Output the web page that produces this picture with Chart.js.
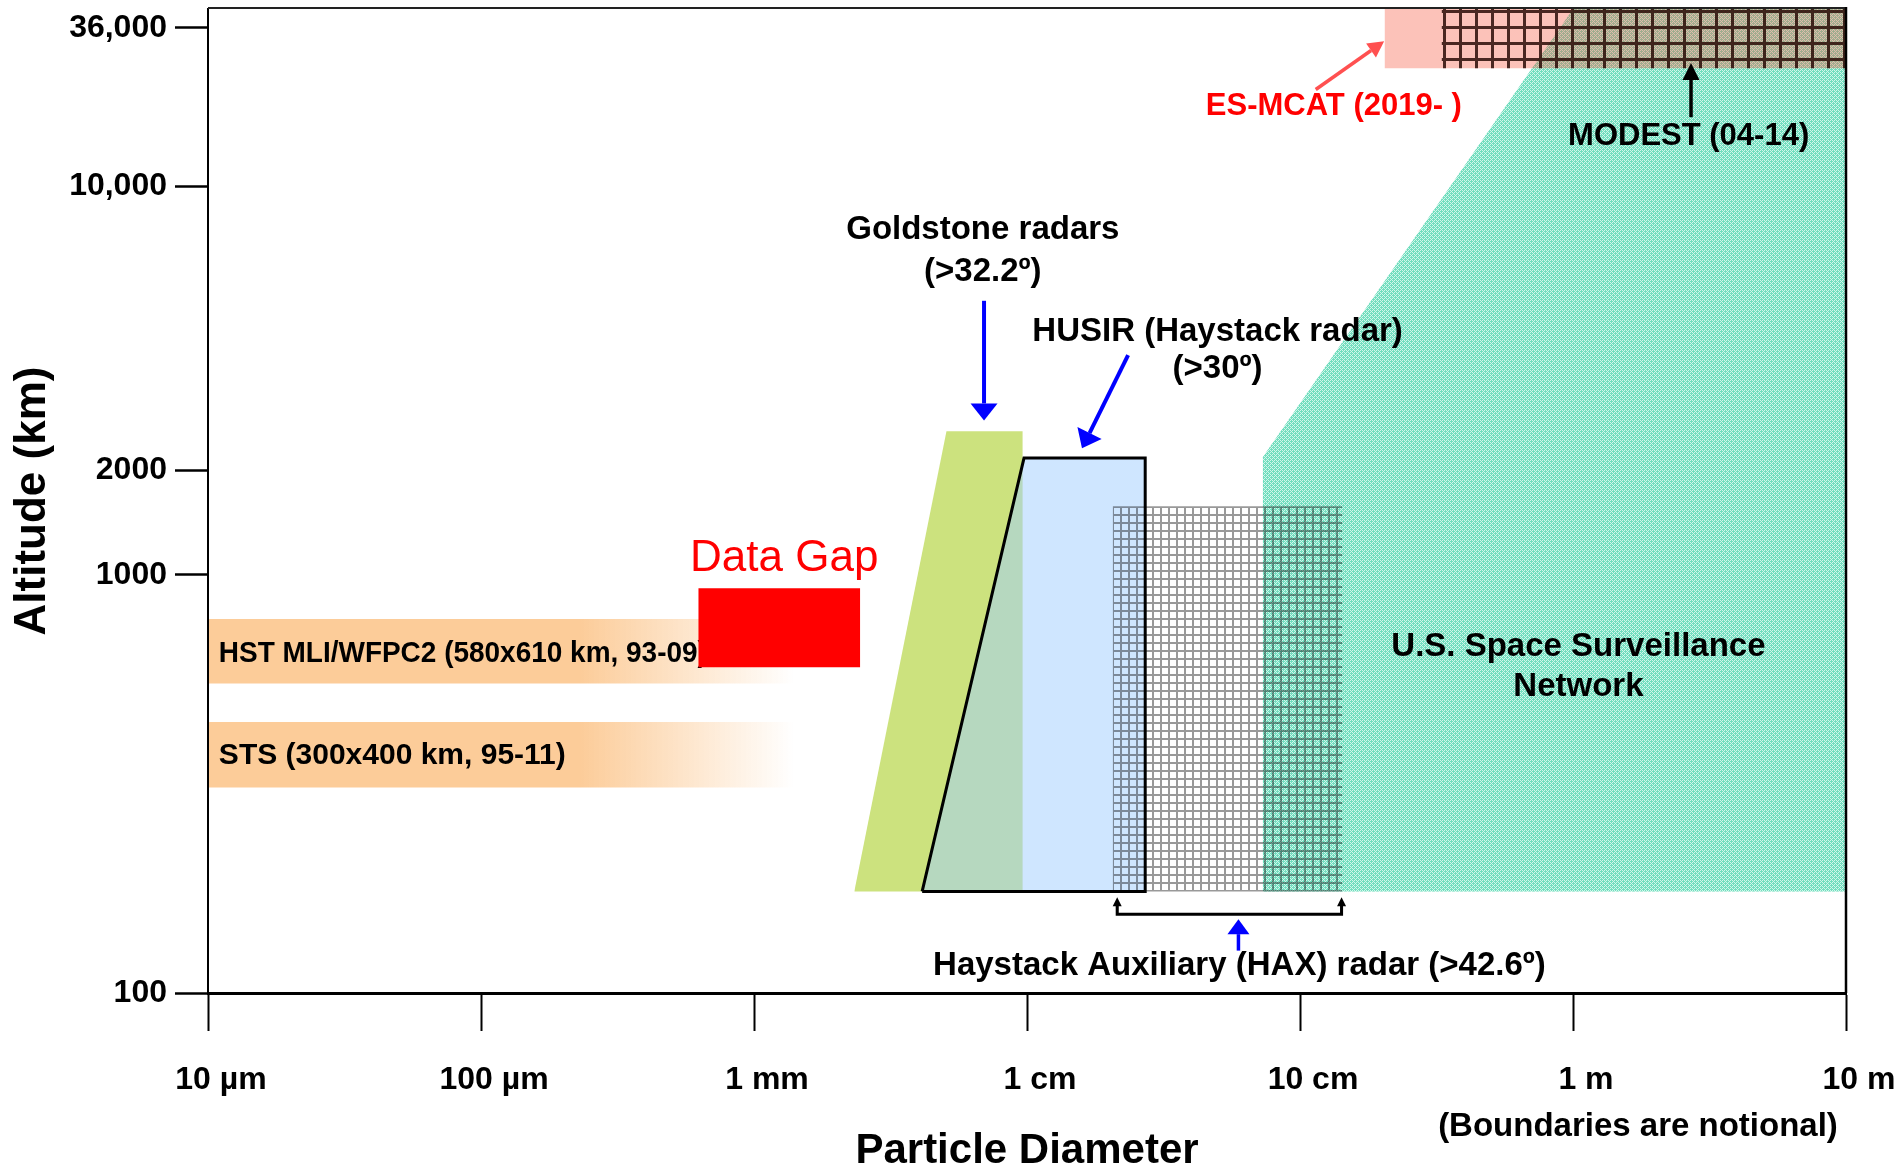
<!DOCTYPE html>
<html>
<head>
<meta charset="utf-8">
<title>Debris measurement coverage</title>
<script src="https://cdn.jsdelivr.net/npm/chart.js@4.4.1/dist/chart.umd.min.js"></script>
<style>
  html, body { margin: 0; padding: 0; background: #fff; overflow: hidden; }
  canvas { display: block; }
</style>
</head>
<body>
<canvas id="chart" width="1898" height="1173" style="width:1898px;height:1173px"></canvas>
<script>
const FONT = "'Liberation Sans', Arial, Helvetica, sans-serif";
Chart.defaults.font.family = FONT;
Chart.defaults.color = '#000';

// ---- axes ----
const SIZE_TICKS  = [1e-5, 1e-4, 1e-3, 1e-2, 1e-1, 1, 10];   // particle diameter, metres
const SIZE_LABELS = ['10 µm', '100 µm', '1 mm', '1 cm', '10 cm', '1 m', '10 m'];
const ALT_TICKS   = [100, 1000, 2000, 10000, 36000];         // altitude, km
const ALT_LABELS  = ['100', '1000', '2000', '10,000', '36,000'];
const ALT_TOP     = 41000;

// altitude axis is notional: every break gets its own share of the height
const ALT_BREAKS    = [100, 1000, 2000, 10000, 36000, ALT_TOP];
const ALT_BREAK_POS = [0, 0.4248, 0.5315, 0.8201, 0.9807, 1];

// ---- regions: diameter (m) / altitude (km) ----
const FLOOR_KM   = 175;
const SSN_D      = [0.073, 0.073, 1.0, 10, 10];
const SSN_ALT    = [175, 2150, 41000, 41000, 175];
const GOLD_D     = [0.00233, 0.00507, 0.00965, 0.00965];
const GOLD_ALT   = [175, 2490, 2490, 175];
const HUSIR_D    = [0.00413, 0.00975, 0.0271, 0.0271, 0.00413];
const HUSIR_ALT  = [175, 2140, 2140, 175, 175];
const HAX_D      = [0.0206, 0.143];
const HAX_ALT    = [175, 1575];
const HST_D      = [1e-5, 0.0015];
const HST_ALT    = [550, 785];
const STS_D      = [1e-5, 0.0015];
const STS_ALT    = [310, 445];
const GAP_D      = [0.000625, 0.00245];
const GAP_ALT    = [602, 929];
const ESMCAT_D   = [0.204, 10];
const ESMCAT_ALT = [26000, 41000];
const MODEST_D   = [0.33, 10];
const MODEST_ALT = [26000, 41000];

const FADE_D = [2.3e-4, 1.4e-3];   // where the HST / STS bands fade out

// ---- notional altitude scale ----
function altToDecimal(v) {
  const lv = Math.log10(v);
  let i = 1;
  while (i < ALT_BREAKS.length - 1 && lv > Math.log10(ALT_BREAKS[i])) i++;
  const a = Math.log10(ALT_BREAKS[i - 1]), b = Math.log10(ALT_BREAKS[i]);
  return ALT_BREAK_POS[i - 1] + (lv - a) / (b - a) * (ALT_BREAK_POS[i] - ALT_BREAK_POS[i - 1]);
}
function decimalToAlt(t) {
  let i = 1;
  while (i < ALT_BREAK_POS.length - 1 && t > ALT_BREAK_POS[i]) i++;
  const a = Math.log10(ALT_BREAKS[i - 1]), b = Math.log10(ALT_BREAKS[i]);
  const f = (t - ALT_BREAK_POS[i - 1]) / (ALT_BREAK_POS[i] - ALT_BREAK_POS[i - 1]);
  return Math.pow(10, a + f * (b - a));
}

class NotionalScale extends Chart.LinearScale {
  getPixelForValue(value) {
    if (value === null || value === undefined) return NaN;
    return this.getPixelForDecimal(altToDecimal(value));
  }
  getValueForPixel(pixel) {
    return decimalToAlt(this.getDecimalForPixel(pixel));
  }
}
NotionalScale.id = 'notional';
NotionalScale.defaults = {};
Chart.register(NotionalScale);

// ---- fills ----
const canvas = document.getElementById('chart');
const ctx2d = canvas.getContext('2d');

function makePattern(size, paint, shift) {
  const c = document.createElement('canvas');
  c.width = c.height = size;
  paint(c.getContext('2d'));
  const p = ctx2d.createPattern(c, 'repeat');
  if (shift) p.setTransform(new DOMMatrix().translate(shift[0], shift[1]));
  return p;
}

const TEAL = makePattern(4, g => {
  g.fillStyle = 'rgb(112,221,190)';
  g.fillRect(0, 0, 4, 4);
  g.fillStyle = 'rgb(208,247,234)';
  [[0, 0], [2, 0], [1, 1], [0, 2], [2, 2], [3, 3]].forEach(([x, y]) => g.fillRect(x, y, 1, 1));
});
const HAX_GRID = makePattern(8, g => {
  g.fillStyle = 'rgba(0,0,0,0.4)';
  g.fillRect(0, 0, 2, 8);
  g.fillRect(2, 0, 6, 2);
}, [1112, 506]);
const MODEST_GRID = makePattern(16, g => {
  g.fillStyle = 'rgba(35,5,0,0.82)';
  g.fillRect(0, 0, 3, 16);
  g.fillRect(3, 0, 13, 3);
}, [1443, 10]);

const PEACH = 'rgb(252,204,153)';
const GREEN = 'rgb(204,226,126)';
const BLUE  = 'rgba(160,205,255,0.5)';
const RED   = '#FF0000';
const PINK  = 'rgba(245,80,55,0.35)';
const CLEAR = 'rgba(0,0,0,0)';

function peachFade(context) {
  const chart = context.chart;
  const xs = chart.scales.x;
  if (!chart.chartArea || !xs) return PEACH;
  const g = chart.ctx.createLinearGradient(xs.getPixelForValue(FADE_D[0]), 0, xs.getPixelForValue(FADE_D[1]), 0);
  g.addColorStop(0, PEACH);
  g.addColorStop(1, 'rgba(252,204,153,0)');
  return g;
}

const pts  = (d, alt) => d.map((x, i) => ({x, y: alt[i]}));
const band = (d, alt) => [{x: d[0], y: alt[1]}, {x: d[1], y: alt[1]}];

function region(label, data, fill, bg, order, extra) {
  return Object.assign({
    label, data, fill, order,
    showLine: true, pointRadius: 0, tension: 0,
    backgroundColor: bg, borderColor: CLEAR, borderWidth: 0,
  }, extra || {});
}

// ---- annotations (anchored in data space) ----
const NOTES = [
  {text: 'Goldstone radars', d: 0.00689, alt: 7815},
  {text: '(>32.2º)', d: 0.00689, alt: 6150},
  {text: 'HUSIR (Haystack radar)', d: 0.0499, alt: 4366},
  {text: '(>30º)', d: 0.0499, alt: 3555},
  {text: 'U.S. Space Surveillance', d: 1.047, alt: 674},
  {text: 'Network', d: 1.047, alt: 541},
  {text: 'MODEST (04-14)', d: 2.652, alt: 14940, size: 31},
  {text: 'ES-MCAT (2019- )', d: 0.1331, alt: 19070, color: RED, size: 31},
  {text: 'Data Gap', d: 0.00129, alt: 1109, color: RED, size: 44, weight: 'normal'},
  {text: 'Haystack Auxiliary (HAX) radar (>42.6º)', d: 0.0600, alt: 115.8},
];
const BAND_NOTES = {
  HST: {text: 'HST MLI/WFPC2 (580x610 km, 93-09)', d: 1.096e-5, alt: 648, size: 30, align: 'left', squeeze: 488},
  STS: {text: 'STS (300x400 km, 95-11)', d: 1.096e-5, alt: 370, size: 30, align: 'left'},
};
const ARROWS = [
  {from: [0.00696, 5218], to: [0.00696, 2649], color: '#0000FF', width: 4, head: [27, 17]},
  {from: [0.02346, 3834], to: [0.0159, 2262], color: '#0000FF', width: 4, head: [27, 17]},
  {from: [0.0595, 126.3], to: [0.0595, 150.2], color: '#0000FF', width: 3.5, head: [22, 15]},
  {from: [0.1142, 21860], to: [0.2033, 32320], color: '#FF5050', width: 3.5, head: [17, 16]},
  {from: [2.706, 17470], to: [2.706, 27120], color: '#000', width: 3.5, head: [17, 17]},
];
const BRACKET_D   = [0.0214, 0.142];
const BRACKET_ALT = [154.3, 169.5];

function drawText(ctx, n, x, y) {
  ctx.save();
  ctx.font = `${n.weight || 'bold'} ${n.size || 33}px ${FONT}`;
  ctx.fillStyle = n.color || '#000';
  ctx.textAlign = n.align || 'center';
  ctx.textBaseline = 'middle';
  if (n.squeeze) ctx.fillText(n.text, x, y, n.squeeze);
  else ctx.fillText(n.text, x, y);
  ctx.restore();
}

function drawArrow(ctx, x0, y0, x1, y1, color, lw, headW, headL) {
  const ang = Math.atan2(y1 - y0, x1 - x0);
  const bx = x1 - Math.cos(ang) * headL, by = y1 - Math.sin(ang) * headL;
  ctx.save();
  ctx.strokeStyle = color;
  ctx.fillStyle = color;
  ctx.lineWidth = lw;
  ctx.beginPath();
  ctx.moveTo(x0, y0);
  ctx.lineTo(bx, by);
  ctx.stroke();
  ctx.beginPath();
  ctx.moveTo(x1, y1);
  ctx.lineTo(bx + Math.sin(ang) * headW / 2, by - Math.cos(ang) * headW / 2);
  ctx.lineTo(bx - Math.sin(ang) * headW / 2, by + Math.cos(ang) * headW / 2);
  ctx.closePath();
  ctx.fill();
  ctx.restore();
}

const notesPlugin = {
  id: 'notes',
  afterDatasetDraw(chart, args) {
    const n = BAND_NOTES[chart.data.datasets[args.index].label];
    if (!n) return;
    const {x, y} = chart.scales;
    drawText(chart.ctx, n, x.getPixelForValue(n.d), y.getPixelForValue(n.alt));
  },
  afterDraw(chart) {
    const ctx = chart.ctx;
    const {x, y} = chart.scales;
    const area = chart.chartArea;

    // frame: top and right edges
    ctx.save();
    ctx.strokeStyle = '#222';
    ctx.lineWidth = 2;
    ctx.beginPath();
    ctx.moveTo(area.left, area.top - 1);
    ctx.lineTo(area.right + 1, area.top - 1);
    ctx.stroke();
    ctx.strokeStyle = '#000';
    ctx.lineWidth = 2.5;
    ctx.beginPath();
    ctx.moveTo(area.right, area.top - 2);
    ctx.lineTo(area.right, area.bottom);
    ctx.stroke();
    ctx.restore();

    ARROWS.forEach(a => drawArrow(ctx,
      x.getPixelForValue(a.from[0]), y.getPixelForValue(a.from[1]),
      x.getPixelForValue(a.to[0]), y.getPixelForValue(a.to[1]),
      a.color, a.width, a.head[0], a.head[1]));

    // HAX bracket
    const bl = x.getPixelForValue(BRACKET_D[0]), br = x.getPixelForValue(BRACKET_D[1]);
    const bb = y.getPixelForValue(BRACKET_ALT[0]), bt = y.getPixelForValue(BRACKET_ALT[1]);
    ctx.save();
    ctx.strokeStyle = '#000';
    ctx.lineWidth = 3;
    ctx.beginPath();
    ctx.moveTo(bl, bt + 6);
    ctx.lineTo(bl, bb);
    ctx.lineTo(br, bb);
    ctx.lineTo(br, bt + 6);
    ctx.stroke();
    ctx.restore();
    drawArrow(ctx, bl, bb, bl, bt, '#000', 2, 9, 9);
    drawArrow(ctx, br, bb, br, bt, '#000', 2, 9, 9);

    NOTES.forEach(n => drawText(ctx, n, x.getPixelForValue(n.d), y.getPixelForValue(n.alt)));

    drawText(ctx, {text: '(Boundaries are notional)', size: 33},
      x.getPixelForValue(1.73), area.bottom + 134);
  },
};

new Chart(canvas, {
  type: 'scatter',
  data: {
    datasets: [
      region('SSN', pts(SSN_D, SSN_ALT), {value: FLOOR_KM}, TEAL, 10),
      region('HST', band(HST_D, HST_ALT), {value: HST_ALT[0]}, peachFade, 9),
      region('STS', band(STS_D, STS_ALT), {value: STS_ALT[0]}, peachFade, 8),
      region('Goldstone', pts(GOLD_D, GOLD_ALT), {value: FLOOR_KM}, GREEN, 7),
      region('HUSIR', pts(HUSIR_D.slice(0, 4), HUSIR_ALT.slice(0, 4)), {value: FLOOR_KM}, BLUE, 6),
      region('HAX', band(HAX_D, HAX_ALT), {value: HAX_ALT[0]}, HAX_GRID, 5),
      region('HUSIR outline', pts(HUSIR_D, HUSIR_ALT), false, CLEAR, 4,
        {borderColor: '#000', borderWidth: 3, borderJoinStyle: 'miter'}),
      region('Data Gap', band(GAP_D, GAP_ALT), {value: GAP_ALT[0]}, RED, 3),
      region('ES-MCAT', band(ESMCAT_D, ESMCAT_ALT), {value: ESMCAT_ALT[0]}, PINK, 2),
      region('MODEST', band(MODEST_D, MODEST_ALT), {value: MODEST_ALT[0]}, MODEST_GRID, 1),
    ],
  },
  options: {
    responsive: false,
    animation: false,
    devicePixelRatio: 1,
    events: [],
    layout: { padding: { top: 9, right: 52, bottom: 0, left: 0 } },
    plugins: { legend: { display: false }, tooltip: { enabled: false } },
    scales: {
      x: {
        type: 'logarithmic',
        position: 'bottom',
        min: 1e-5,
        max: 10,
        afterBuildTicks: s => { s.ticks = SIZE_TICKS.map(v => ({value: v})); },
        afterFit: s => { s.height = 180; s.paddingLeft = 0; s.paddingRight = 0; },
        grid: { drawOnChartArea: false, drawTicks: true, tickLength: 38, tickWidth: 2, tickColor: '#000' },
        border: { display: true, color: '#000', width: 3, z: 1 },
        ticks: {
          callback: (v, i) => SIZE_LABELS[i],
          autoSkip: false, maxRotation: 0, padding: 30, labelOffset: 13,
          font: { size: 32, weight: 'bold' }, color: '#000',
        },
        title: {
          display: true, text: 'Particle Diameter', color: '#000',
          font: { size: 42, weight: 'bold', lineHeight: 1 },
          padding: { top: 0, bottom: 1 },
        },
      },
      y: {
        type: 'notional',
        position: 'left',
        min: ALT_TICKS[0],
        max: ALT_TOP,
        afterBuildTicks: s => { s.ticks = ALT_TICKS.map(v => ({value: v})); },
        afterFit: s => { s.width = 208; s.paddingTop = 0; s.paddingBottom = 0; },
        grid: { drawOnChartArea: false, drawTicks: true, tickLength: 33, tickWidth: 2.5, tickColor: '#000' },
        border: { display: true, color: '#000', width: 2, z: 1 },
        ticks: {
          callback: (v, i) => ALT_LABELS[i],
          autoSkip: false, padding: 8,
          font: { size: 32, weight: 'bold' }, color: '#000',
        },
        title: {
          display: true, text: 'Altitude (km)', color: '#000',
          font: { size: 44, weight: 'bold' },
          padding: { top: 6, bottom: 0 },
        },
      },
    },
  },
  plugins: [notesPlugin],
});
</script>
</body>
</html>
